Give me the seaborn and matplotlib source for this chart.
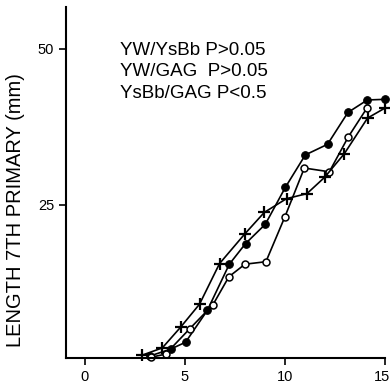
import numpy as np
import pandas as pd
import seaborn as sns
import matplotlib.pyplot as plt
import matplotlib.transforms as mtransforms

# group growth curves
x_filled = [3.25, 4.28, 5.03, 6.12, 7.22, 8.03, 9.02, 10.02, 11.02, 12.13, 13.15, 14.12, 15.0]
y_filled = [0.8, 1.9, 3.0, 8.1, 15.5, 18.8, 21.9, 27.8, 33.0, 34.7, 39.8, 41.8, 41.9]

x_open = [3.3, 4.03, 5.25, 6.4, 7.2, 8.0, 9.05, 10.0, 10.97, 12.22, 13.17, 14.1]
y_open = [0.6, 1.1, 5.2, 9.0, 13.5, 15.5, 15.9, 23.1, 30.9, 30.3, 35.9, 40.5]

x_plus = [2.83, 3.87, 4.78, 5.73, 6.73, 7.98, 8.97, 10.08, 11.1, 11.98, 12.97, 14.13, 15.0]
y_plus = [0.9, 2.1, 5.4, 9.1, 15.6, 20.3, 23.8, 26.0, 26.8, 29.4, 33.2, 38.9, 40.5]

stats_lines = ["YW/YsBb P>0.05", "YW/GAG  P>0.05", "YsBb/GAG P<0.5"]

sns.set_style("ticks")
plt.rcParams['font.family'] = ['Liberation Sans', 'DejaVu Sans']
plt.rcParams['text.color'] = 'black'
plt.rcParams['xtick.color'] = 'black'
plt.rcParams['ytick.color'] = 'black'

fig = plt.figure(figsize=(3.9, 3.84), dpi=100)
ax = fig.add_axes([0.169, 0.068, 0.818, 0.914])

sns.lineplot(x=x_filled, y=y_filled, ax=ax, color='black', lw=1.2, marker='o',
             markersize=5.5, markerfacecolor='black', markeredgecolor='black',
             estimator=None, clip_on=False)
sns.lineplot(x=x_open, y=y_open, ax=ax, color='black', lw=1.2, marker='o',
             markersize=5, markerfacecolor='white', markeredgecolor='black',
             markeredgewidth=1.1, estimator=None, clip_on=False)
sns.lineplot(x=x_plus, y=y_plus, ax=ax, color='black', lw=1.2, marker='+',
             markersize=8, markeredgewidth=1.6, markeredgecolor='black',
             estimator=None, clip_on=False)

for i, s in enumerate(stats_lines):
    ax.text(1.75, 49.8 - 3.5 * i, s, fontsize=13.5, va='center', ha='left')

ax.set_xlim(-0.95, 15)
ax.set_ylim(0.5, 56.7)
ax.set_xticks([0, 5, 10, 15])
ax.set_yticks([25, 50])
ax.tick_params(labelsize=10.5, width=1.2, length=5)
sns.despine(ax=ax)
for sp in ['left', 'bottom']:
    ax.spines[sp].set_linewidth(1.5)
    ax.spines[sp].set_color('black')

# keep the last x label inside the canvas, as in the original
last = ax.get_xticklabels()[-1]
last.set_ha('right')
last.set_transform(last.get_transform() + mtransforms.ScaledTranslation(5 / 100, 0, fig.dpi_scale_trans))

fig.text(16 / 390, 1 - 210 / 384, "LENGTH 7TH PRIMARY (mm)", fontsize=14.5,
         rotation=90, ha='center', va='center')

fig.savefig("out.png", dpi=100)
